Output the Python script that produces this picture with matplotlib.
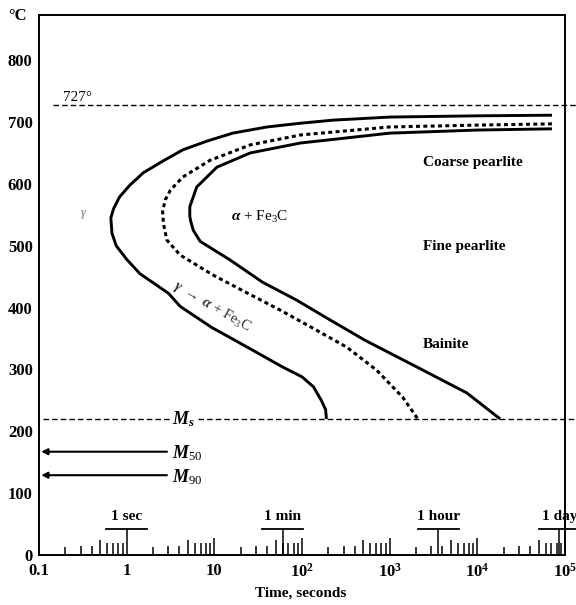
import numpy as np
import matplotlib.pyplot as plt
from matplotlib.ticker import NullLocator

plt.rcParams['font.family'] = ['Liberation Serif', 'DejaVu Serif']
plt.rcParams['mathtext.fontset'] = 'custom'
plt.rcParams['mathtext.rm'] = 'Liberation Serif'
plt.rcParams['mathtext.it'] = 'Liberation Serif:italic:bold'
plt.rcParams['mathtext.bf'] = 'Liberation Serif:bold'

# -----------------------------
# data (time in s, temperature in degC)
# -----------------------------
start_t = [7.1e4, 1e4, 1000, 225, 95.5, 40, 16.2, 8.2, 4.37, 2.6, 1.55, 1.09, 0.83,
           0.71, 0.66, 0.68, 0.76, 1.0, 1.41, 3.0, 4.07, 9.3, 22.4, 60, 100, 135,
           166, 186, 190]
start_T = [711, 710, 708, 703, 698, 692, 682, 669, 655, 637, 618, 598, 579,
           560, 545, 520, 500, 478, 455, 423, 402, 368, 338, 304, 288, 272,
           250, 235, 220]

half_t = [7.1e4, 1e4, 1000, 95.5, 25.7, 8.9, 4.37, 3.16, 2.75, 2.57, 2.63, 2.88,
          4.07, 9.55, 23.4, 56.2, 132, 324, 708, 1410, 2090]
half_T = [697, 695, 692, 679, 663, 638, 611, 590, 574, 555, 535, 509,
          485, 453, 424, 396, 367, 336, 299, 255, 220]

finish_t = [7.1e4, 1e4, 1000, 95.5, 25.7, 10.7, 6.3, 5.25, 5.25, 5.37, 5.75, 6.9,
            15.1, 35.5, 87, 209, 525, 2040, 7590, 1.82e4]
finish_T = [689, 687, 682, 666, 650, 627, 595, 563, 548, 540, 525, 507,
            477, 441, 412, 380, 347, 304, 262, 220]

A1 = 727
Ms = 220
M50 = 167
M90 = 129

y_ticks = [0, 100, 200, 300, 400, 500, 600, 700, 800]
x_ticks = [0.1, 1, 10, 1e2, 1e3, 1e4, 1e5]
x_labels = ['0.1', '1', '10', r'$\mathbf{10^{2}}$', r'$\mathbf{10^{3}}$',
            r'$\mathbf{10^{4}}$', r'$\mathbf{10^{5}}$']

minor_mult = [2, 3, 4, 5, 6, 7, 8, 9]
minor_len = [13, 14, 14, 24, 19, 19, 19, 19]
decades = [10, 100, 1000, 1e4]

marker_t = [1, 60, 3600, 86400]
marker_names = ['1 sec', '1 min', '1 hour', '1 day']

# -----------------------------
# figure
# -----------------------------
fig = plt.figure(figsize=(5.76, 6.05), dpi=100)
ax = fig.add_axes([39/576, 50/605, 526/576, 540/605])
ax.set_xscale('log')
ax.set_xlim(0.1, 1e5)
ax.set_ylim(0, 873)

for s in ax.spines.values():
    s.set_linewidth(1.4)

# transformation curves
ax.plot(start_t, start_T, color='black', lw=2.1, solid_capstyle='butt', solid_joinstyle='round')
ax.plot(half_t, half_T, color='black', lw=2.2, ls=(0, (1.3, 1.1)))
ax.plot(finish_t, finish_T, color='black', lw=2.1, solid_capstyle='butt', solid_joinstyle='round')

# 727 and Ms lines
ax.plot([0.144, 1.33e5], [A1, A1], color='black', lw=1.0, dashes=[4, 2.2], clip_on=False)
ax.plot([0.111, 1.33e5], [Ms, Ms], color='black', lw=1.0, dashes=[4, 2.2], clip_on=False)
ax.text(0.188, 740, '727°', fontsize=11, va='center', ha='left')
ax.text(3.29, Ms, r'$M_s$', fontsize=13, va='center', ha='left',
        bbox=dict(facecolor='white', edgecolor='none', pad=1))

# M50 / M90 arrows
for T, lab in [(M50, r'$M_{50}$'), (M90, r'$M_{90}$')]:
    ax.annotate('', xy=(0.106, T), xytext=(2.88, T),
                arrowprops=dict(arrowstyle='-|>', color='black', lw=1.5,
                                mutation_scale=9, shrinkA=0, shrinkB=0))
    ax.text(3.29, T - 3, lab, fontsize=13, va='center', ha='left')

# bottom tick marks
for d in [0.1, 1, 10, 100, 1000, 1e4]:
    ax.vlines([d * m for m in minor_mult], 0, minor_len, color='black', lw=1.1)
ax.vlines(decades, 0, 27, color='black', lw=1.1)

# time markers
w = 10 ** 0.234
for t, name in zip(marker_t, marker_names):
    ax.plot([t, t], [0, 42], color='black', lw=1.1, clip_on=False)
    ax.plot([t / w, t * w], [42, 42], color='black', lw=1.3, clip_on=False)
    ax.text(t, 62, name, fontsize=11, fontweight='bold', ha='center', va='center', clip_on=False)

# region labels
ax.text(2400, 634, 'Coarse pearlite', fontsize=11, fontweight='bold', va='center')
ax.text(2400, 498, 'Fine pearlite', fontsize=11, fontweight='bold', va='center')
ax.text(2400, 340, 'Bainite', fontsize=11, fontweight='bold', va='center')
ax.text(33, 546, r'$\alpha$ + Fe$_3$C', fontsize=11, ha='center', va='center')
ax.text(9.4, 402, r'$\gamma$ $\rightarrow$ $\alpha$ + Fe$_3$C', fontsize=10.5,
        ha='center', va='center', rotation=-30, rotation_mode='anchor', color='#333333')
ax.text(0.326, 550, r'$\gamma$', fontsize=9, ha='center', va='center', color='#999999')

# axes ticks
ax.set_yticks(y_ticks)
ax.set_yticklabels([str(v) for v in y_ticks], fontsize=12, fontweight='bold')
ax.tick_params(axis='y', length=0, pad=4.5)
ax.set_xticks(x_ticks)
ax.set_xticklabels(x_labels, fontsize=12, fontweight='bold')
ax.xaxis.set_minor_locator(NullLocator())
ax.tick_params(axis='x', length=0, pad=5.5)

ax.text(10 ** 1.99, -62, 'Time, seconds', fontsize=11, fontweight='bold',
        ha='center', va='center', clip_on=False)
fig.text(8/576, 1 - 16/605, '°C', fontsize=12, fontweight='bold', ha='left', va='center')

plt.savefig('out.png', dpi=100)
